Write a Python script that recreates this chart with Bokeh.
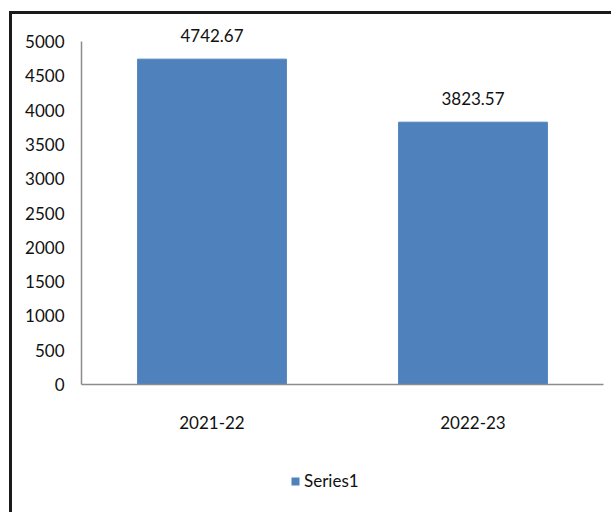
from bokeh.plotting import figure
from bokeh.layouts import column
from bokeh.models import FactorRange, Range1d, FixedTicker, Legend, LegendItem, ColumnDataSource
from bokeh.core.properties import value
from bokeh.embed import file_html
from bokeh.resources import INLINE

categories = ["2021-22", "2022-23"]
values = [4742.67, 3823.57]
labels = ["4742.67", "3823.57"]
y_ticks = [0, 500, 1000, 1500, 2000, 2500, 3000, 3500, 4000, 4500, 5000]
series_name = "Series1"

FONT = "Lato"
BAR = "#4F81BD"

src = ColumnDataSource(dict(x=categories, top=values, lab=labels))

# frame extends a little above 5000 so the top data label is not clipped
y_end = 5000 * 364 / 343

p = figure(x_range=FactorRange(*categories), y_range=Range1d(0, y_end),
           width=599, height=451, output_backend="svg", toolbar_location=None,
           min_border_left=69, min_border_right=8, min_border_top=6, min_border_bottom=81)
p.outline_line_color = None
p.grid.visible = False
p.background_fill_color = "white"
p.border_fill_color = "white"

r = p.vbar(x="x", top="top", width=0.57, source=src, fill_color=BAR, line_color=BAR)
p.text(x="x", y="top", text="lab", source=src, y_offset=-24, text_align="center",
       text_baseline="alphabetic", text_font=value(FONT), text_font_size="17px", text_color="#111111")

p.yaxis.ticker = FixedTicker(ticks=y_ticks)
p.yaxis.bounds = (0, 5000)
for ax in (p.xaxis[0], p.yaxis[0]):
    ax.axis_line_color = "#8c8c8c"
    ax.axis_line_width = 1.5
    ax.major_tick_line_color = None
    ax.minor_tick_line_color = None
    ax.major_label_text_font = FONT
    ax.major_label_text_font_size = "17px"
    ax.major_label_text_color = "#111111"
p.yaxis.major_label_standoff = 11
p.xaxis.major_label_standoff = 25

# legend strip below the chart (its swatch renderer has zero height, so draws nothing)
q = figure(width=599, height=47, output_backend="svg", toolbar_location=None,
           x_axis_type=None, y_axis_type=None, x_range=Range1d(0, 1), y_range=Range1d(0, 1),
           min_border_left=69, min_border_right=8, min_border_top=0, min_border_bottom=0)
q.outline_line_color = None
q.grid.visible = False
q.background_fill_color = "white"
q.border_fill_color = "white"
lr = q.vbar(x=[0.5], top=[0], bottom=0, width=0.5, fill_color=BAR, line_color=None)
legend = Legend(items=[LegendItem(label=series_name, renderers=[lr])], location=(209, 21),
                padding=0, margin=0, border_line_color=None, background_fill_alpha=0,
                glyph_width=10, glyph_height=10, label_standoff=4,
                label_text_font=FONT, label_text_font_size="17px", label_text_color="#111111")
q.add_layout(legend)

layout = column(p, q, spacing=0)
layout.styles = {"margin-left": "9px", "margin-top": "11px",
                 "border-left": "3px solid #1a1a1a", "border-top": "3px solid #1a1a1a"}

open("out.html", "w").write(file_html(layout, INLINE))
